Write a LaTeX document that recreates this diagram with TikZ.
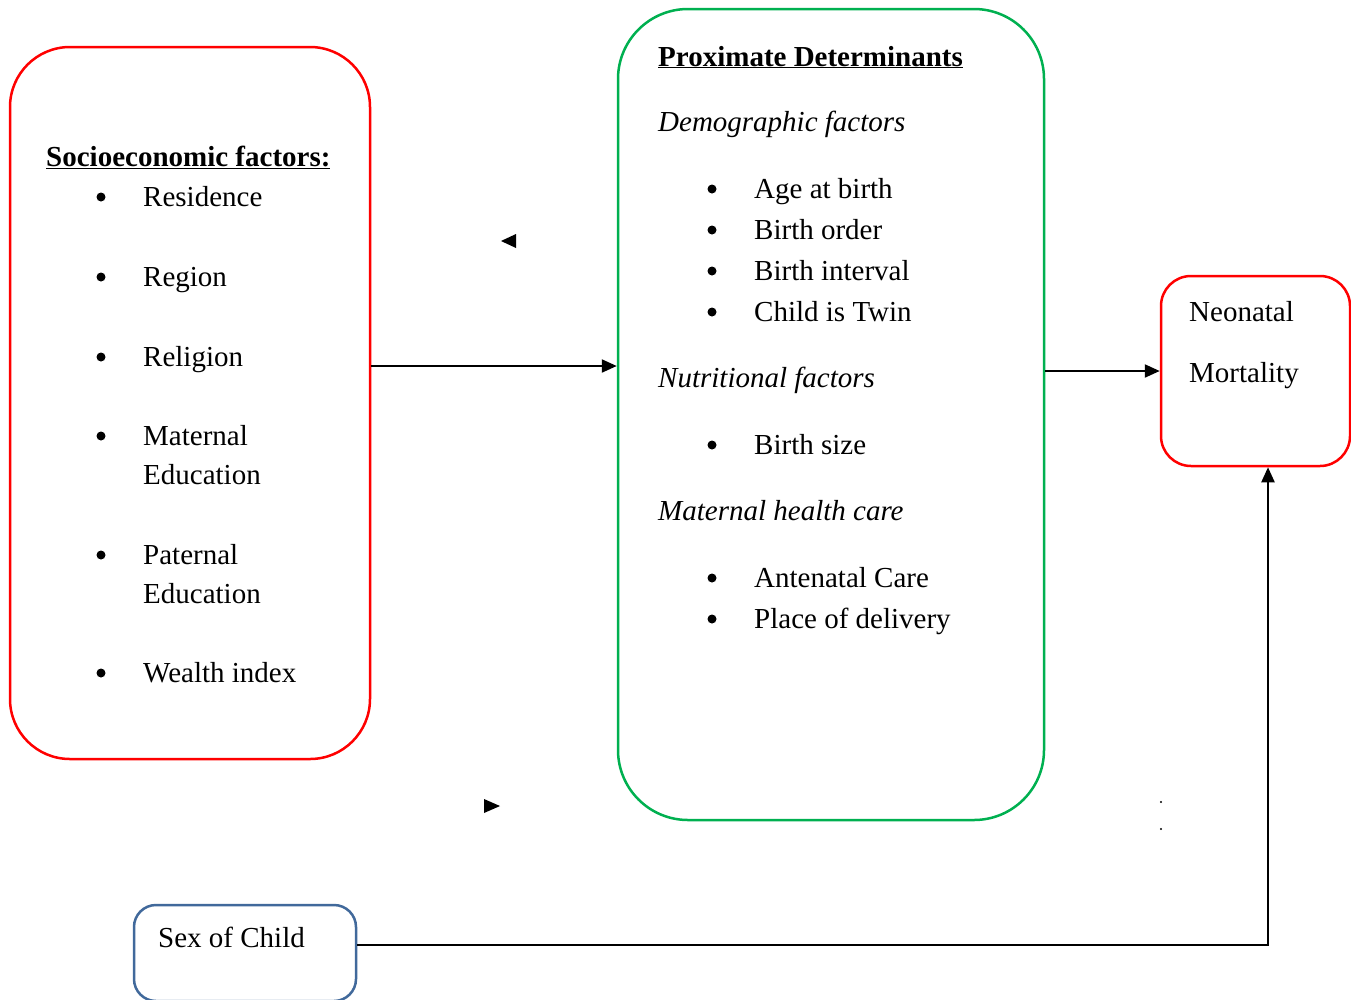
\documentclass[tikz,border=0pt]{standalone}
\usepackage{fontspec}
\setmainfont{Liberation Serif}
\usetikzlibrary{arrows.meta}
\definecolor{boxred}{RGB}{255,0,0}
\definecolor{boxgreen}{RGB}{0,176,80}
\definecolor{boxblue}{RGB}{65,105,155}
\tikzset{
  txt/.style={anchor=base west, inner sep=0pt, font=\fontsize{29}{35}\selectfont},
  bul/.style={circle, fill=black, inner sep=0pt, minimum size=9pt},
  frame/.style={draw, line width=2.5pt, rounded corners=#1, inner sep=0pt},
  arr/.style={line width=2.2pt, -{Triangle[length=15pt,width=13pt]}},
}
\begin{document}
\begin{tikzpicture}[x=1pt,y=-1pt]
\useasboundingbox (0,0) rectangle (1351,999);
% boxes
\node[frame=60pt, boxred, minimum width=360pt, minimum height=712pt] (socio) at (190,403) {};
\node[frame=70pt, boxgreen, minimum width=426pt, minimum height=811pt] (prox) at (831,414.5) {};
\node[frame=30pt, boxred, minimum width=189pt, minimum height=190pt] (neo) at (1255.5,371) {};
\node[frame=22pt, boxblue, minimum width=222pt, minimum height=96pt] (sex) at (245,953) {};
% left box text
\node[txt] (st) at (46,166) {\textbf{\underline{Socioeconomic factors:}}};
\foreach \yb/\t/\n in {206/Residence/a, 286/Region/b, 366/Religion/c, 445/Maternal/d, 564/Paternal/e, 682/Wealth index/f}{
  \node[bul] (sb\n) at (101,\yb-9) {};
  \node[txt] (s\n) at (143,\yb) {\t};
}
\node[txt] (sd2) at (143,484) {Education};
\node[txt] (se2) at (143,603) {Education};
% green box text
\node[txt] (pt) at (658,66) {\textbf{\underline{Proximate Determinants}}};
\node[txt] (pdem) at (658,131) {\textit{Demographic factors}};
\node[txt] (pnut) at (658,387) {\textit{Nutritional factors}};
\node[txt] (pmat) at (658,520) {\textit{Maternal health care}};
\foreach \yb/\t/\n in {198/Age at birth/a, 239/Birth order/b, 280/Birth interval/c, 321/Child is Twin/d, 454/Birth size/e, 587/Antenatal Care/f, 628/Place of delivery/g}{
  \node[bul] (pb\n) at (712,\yb-9) {};
  \node[txt] (p\n) at (754,\yb) {\t};
}
% neonatal and sex text
\node[txt] (n1) at (1189,321) {Neonatal};
\node[txt] (n2) at (1189,382) {Mortality};
\node[txt] (sx) at (158,947) {Sex of Child};
% connectors
\coordinate (y1) at (0,366);
\coordinate (corner) at (1268,945);
\draw[arr] (socio.east |- y1) -- (prox.west |- y1);
\draw[arr] (prox.east |- neo.west) -- (neo.west);
\draw[arr] (sex.east |- corner) -| (neo.south -| corner);
% stray arrowheads and dots
\fill (501,241) -- (516,234) -- (516,248) -- cycle;
\fill (500,806) -- (484,799) -- (484,813) -- cycle;
\fill (1161,802) circle (1.2pt);
\fill (1161,829) circle (1.2pt);
\end{tikzpicture}
\end{document}
